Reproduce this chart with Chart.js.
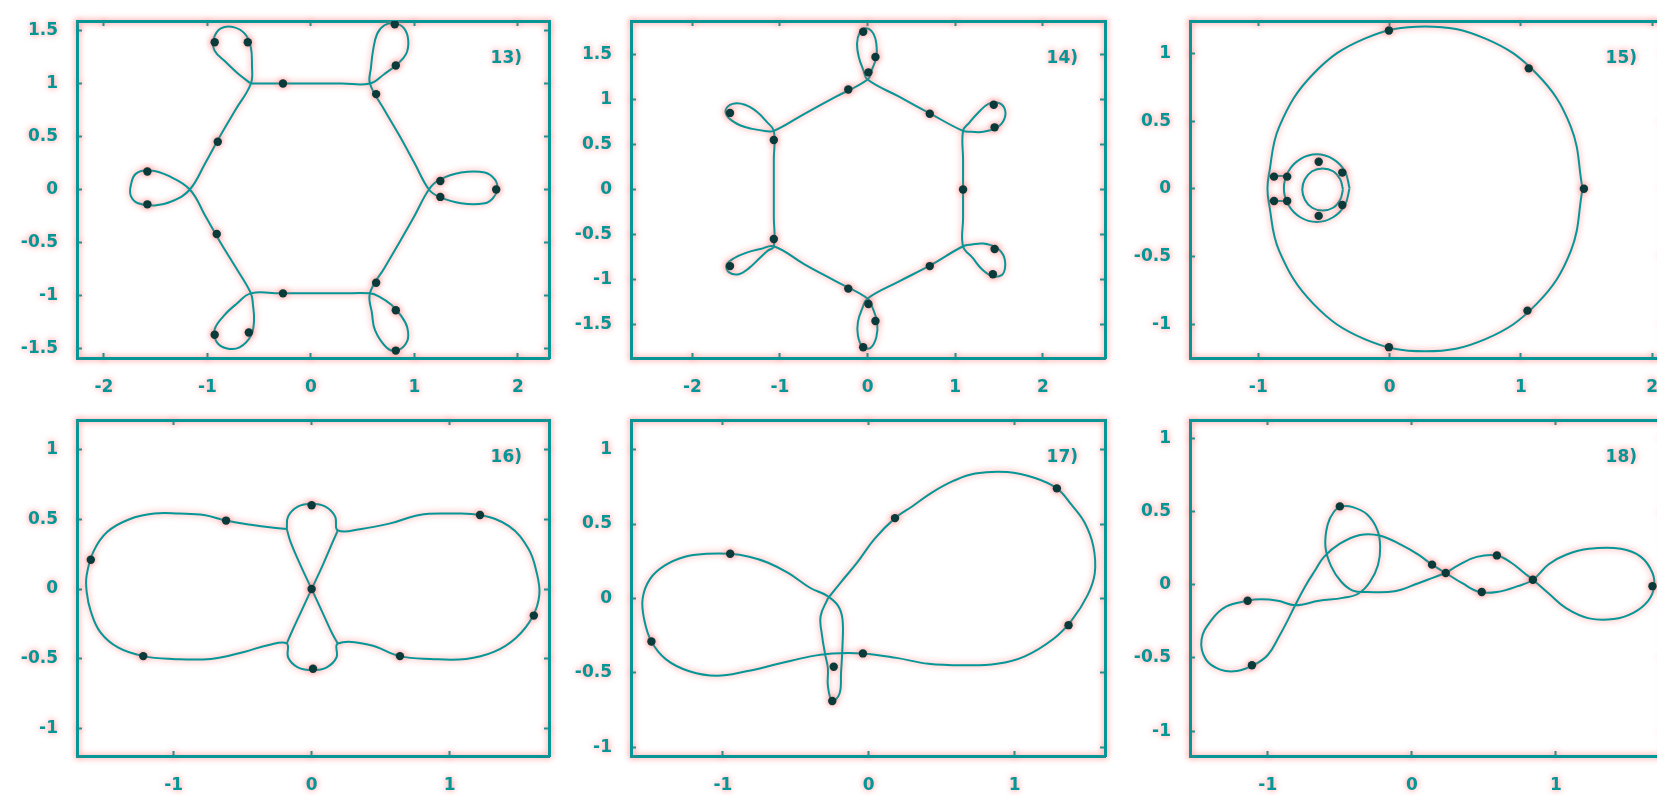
<!DOCTYPE html>
<html>
<head>
<meta charset="utf-8">
<script src="https://cdn.jsdelivr.net/npm/chart.js@4.4.1/dist/chart.umd.min.js"></script>
<style>
  html, body { margin: 0; padding: 0; background: #fff; width: 1657px; height: 795px; overflow: hidden; }
  canvas { position: absolute; }
</style>
</head>
<body>
<script>
// ---- orbit data, one closed path (or a few pieces) per panel ----
const panelLabels = ['13)', '14)', '15)', '16)', '17)', '18)'];

// 13) hexagon with six loops
const orbit13 = [
  [-0.58, 1.0], [-0.3, 1.0], [0.0, 1.0], [0.3, 1.0], [0.57, 1.0],
  [0.71, 1.09], [0.83, 1.18], [0.92, 1.28], [0.94, 1.41], [0.9, 1.52], [0.81, 1.57], [0.71, 1.55], [0.64, 1.47], [0.6, 1.31], [0.58, 1.15],
  [0.57, 1.0], [0.71, 0.75], [0.86, 0.5], [1.0, 0.25], [1.14, 0.0],
  [1.24, -0.07], [1.45, -0.13], [1.68, -0.13], [1.76, -0.08], [1.8, 0.0], [1.78, 0.09], [1.68, 0.16], [1.45, 0.16], [1.24, 0.09],
  [1.14, 0.0], [1.0, -0.25], [0.86, -0.49], [0.71, -0.74], [0.57, -0.98],
  [0.59, -1.17], [0.62, -1.33], [0.73, -1.49], [0.83, -1.52], [0.93, -1.43], [0.93, -1.3], [0.87, -1.19], [0.78, -1.09], [0.66, -1.01],
  [0.57, -0.98], [0.3, -0.98], [0.0, -0.98], [-0.3, -0.98], [-0.58, -0.98],
  [-0.72, -1.08], [-0.84, -1.19], [-0.93, -1.32], [-0.91, -1.44], [-0.81, -1.5], [-0.69, -1.49], [-0.58, -1.38], [-0.55, -1.24], [-0.56, -1.09],
  [-0.58, -0.98], [-0.73, -0.73], [-0.88, -0.49], [-1.02, -0.25], [-1.17, 0.0],
  [-1.38, 0.13], [-1.55, 0.18], [-1.69, 0.15], [-1.74, 0.04], [-1.74, -0.06], [-1.67, -0.13], [-1.51, -0.15], [-1.34, -0.11],
  [-1.17, 0.0], [-1.02, 0.25], [-0.88, 0.5], [-0.73, 0.75], [-0.58, 1.0],
  [-0.57, 1.18], [-0.58, 1.34], [-0.63, 1.46], [-0.74, 1.53], [-0.87, 1.52], [-0.94, 1.42], [-0.93, 1.31], [-0.82, 1.2], [-0.7, 1.09],
  [-0.58, 1.0]
];
const bodies13 = [
  [-0.93, 1.39], [-0.61, 1.39], [0.81, 1.56], [0.82, 1.17], [-0.27, 1.0], [0.63, 0.9], [-0.9, 0.45],
  [-1.58, 0.17], [-1.58, -0.14], [1.25, 0.08], [1.25, -0.07], [1.79, 0.0], [-0.91, -0.42], [0.63, -0.88],
  [-0.27, -0.98], [0.82, -1.14], [-0.93, -1.37], [-0.6, -1.35], [0.82, -1.52]
];

// 14) upright hexagon with six small loops
const orbit14 = [
  [1.09, 0.0], [1.09, -0.32], [1.09, -0.63],
  [1.2, -0.76], [1.3, -0.88], [1.42, -0.96], [1.53, -0.95], [1.57, -0.86], [1.55, -0.73], [1.46, -0.64], [1.32, -0.6], [1.19, -0.61],
  [1.09, -0.63], [0.72, -0.84], [0.36, -1.02], [0.0, -1.21],
  [-0.06, -1.32], [-0.11, -1.47], [-0.11, -1.62], [-0.06, -1.74], [0.03, -1.76], [0.1, -1.64], [0.11, -1.48], [0.06, -1.32],
  [0.0, -1.21], [-0.36, -1.02], [-0.72, -0.83], [-1.07, -0.63],
  [-1.22, -0.66], [-1.38, -0.7], [-1.52, -0.76], [-1.61, -0.84], [-1.58, -0.92], [-1.47, -0.94], [-1.35, -0.87], [-1.23, -0.76], [-1.14, -0.68],
  [-1.07, -0.63], [-1.07, -0.3], [-1.07, 0.0], [-1.07, 0.33], [-1.07, 0.65],
  [-1.15, 0.75], [-1.26, 0.86], [-1.4, 0.94], [-1.54, 0.95], [-1.62, 0.88], [-1.58, 0.79], [-1.45, 0.71], [-1.3, 0.67], [-1.17, 0.65],
  [-1.07, 0.65], [-0.72, 0.84], [-0.36, 1.03], [0.0, 1.22],
  [0.05, 1.33], [0.1, 1.47], [0.1, 1.62], [0.06, 1.74], [-0.02, 1.79], [-0.09, 1.74], [-0.12, 1.62], [-0.1, 1.47], [-0.05, 1.33],
  [0.0, 1.22], [0.36, 1.03], [0.72, 0.84], [1.09, 0.65],
  [1.19, 0.64], [1.32, 0.64], [1.46, 0.68], [1.55, 0.76], [1.57, 0.88], [1.5, 0.96], [1.38, 0.95], [1.27, 0.86], [1.16, 0.74],
  [1.09, 0.65], [1.09, 0.33], [1.09, 0.0]
];
const bodies14 = [
  [-0.05, 1.75], [0.09, 1.47], [0.01, 1.3], [-0.22, 1.11], [0.71, 0.84], [1.44, 0.94], [1.45, 0.69],
  [-1.57, 0.85], [-1.07, 0.55], [1.09, 0.0], [-1.07, -0.55], [-1.57, -0.85], [1.45, -0.66], [1.43, -0.94],
  [0.71, -0.85], [-0.22, -1.1], [0.01, -1.27], [0.09, -1.46], [-0.05, -1.75]
];

// 15) large circle with a double ring near its left side
const circle15 = [
  [1.47, 0.0], [1.38, 0.46], [1.12, 0.85], [0.73, 1.11], [0.27, 1.2], [-0.19, 1.11], [-0.58, 0.85], [-0.84, 0.46],
  [-0.92, 0.1], [-0.93, 0.0], [-0.92, -0.1], [-0.84, -0.46], [-0.58, -0.85], [-0.19, -1.11], [0.27, -1.2], [0.73, -1.11],
  [1.12, -0.85], [1.38, -0.46], [1.47, 0.0]
];
const outerRing15 = [
  [-0.305, 0.005], [-0.34, 0.13], [-0.43, 0.22], [-0.555, 0.255], [-0.68, 0.22], [-0.77, 0.13], [-0.805, 0.005],
  [-0.77, -0.12], [-0.68, -0.21], [-0.555, -0.245], [-0.43, -0.21], [-0.34, -0.12], [-0.305, 0.005]
];
const innerRing15 = [
  [-0.355, -0.005], [-0.376, 0.07], [-0.43, 0.13], [-0.51, 0.15], [-0.59, 0.13], [-0.645, 0.07], [-0.665, -0.005],
  [-0.645, -0.08], [-0.59, -0.14], [-0.51, -0.16], [-0.43, -0.14], [-0.376, -0.08], [-0.355, -0.005]
];
const linkTop15 = [[-0.92, 0.095], [-0.79, 0.095]];
const linkBottom15 = [[-0.92, -0.09], [-0.79, -0.09]];
const bodies15 = [
  [-0.005, 1.17], [1.06, 0.89], [1.48, 0.0], [1.05, -0.9], [-0.005, -1.17],
  [-0.54, 0.2], [-0.54, -0.2], [-0.36, 0.12], [-0.36, -0.12], [-0.78, 0.09], [-0.78, -0.09], [-0.88, 0.09], [-0.88, -0.09]
];

// 16) two lobes joined through a small vertical figure-eight
const lobes16 = [
  [-0.18, 0.43], [-0.29, 0.44], [-0.44, 0.46], [-0.62, 0.49], [-0.78, 0.53], [-0.96, 0.54], [-1.14, 0.54], [-1.32, 0.5],
  [-1.48, 0.41], [-1.58, 0.27], [-1.63, 0.1], [-1.63, -0.02], [-1.6, -0.16], [-1.53, -0.31], [-1.4, -0.42], [-1.22, -0.48],
  [-1.01, -0.5], [-0.73, -0.5], [-0.49, -0.45], [-0.31, -0.4], [-0.18, -0.39],
  [-0.17, -0.49], [-0.1, -0.56], [0.01, -0.58], [0.11, -0.56], [0.18, -0.49], [0.19, -0.39],
  [0.42, -0.4], [0.64, -0.48], [0.86, -0.5], [1.12, -0.5], [1.32, -0.45], [1.48, -0.35], [1.6, -0.2], [1.65, -0.04],
  [1.63, 0.12], [1.57, 0.29], [1.43, 0.45], [1.22, 0.53], [0.99, 0.54], [0.78, 0.53], [0.57, 0.47], [0.36, 0.43], [0.19, 0.42],
  [0.17, 0.52], [0.1, 0.59], [0.0, 0.61], [-0.1, 0.59], [-0.17, 0.52], [-0.18, 0.43]
];
const crossA16 = [[-0.18, 0.43], [-0.15, 0.33], [-0.08, 0.17], [0.0, 0.0], [0.08, -0.17], [0.15, -0.32], [0.19, -0.39]];
const crossB16 = [[0.19, 0.42], [0.15, 0.33], [0.08, 0.17], [0.0, 0.0], [-0.08, -0.17], [-0.15, -0.32], [-0.18, -0.39]];
const bodies16 = [
  [-0.62, 0.49], [-1.6, 0.21], [-1.22, -0.48], [0.0, 0.6], [0.0, 0.0], [0.01, -0.57], [1.22, 0.53], [1.61, -0.19], [0.64, -0.48]
];

// 17) uneven figure-eight with a narrow hanging loop
const orbit17 = [
  [-0.28, 0.0], [-0.33, -0.12], [-0.32, -0.25], [-0.3, -0.37], [-0.28, -0.47], [-0.28, -0.59], [-0.25, -0.69],
  [-0.2, -0.64], [-0.19, -0.5], [-0.18, -0.32], [-0.18, -0.14], [-0.21, -0.05], [-0.29, 0.02],
  [-0.4, 0.07], [-0.55, 0.17], [-0.69, 0.24], [-0.82, 0.28], [-0.95, 0.3], [-1.11, 0.3], [-1.26, 0.28], [-1.4, 0.22],
  [-1.5, 0.13], [-1.55, 0.0], [-1.54, -0.14], [-1.49, -0.29], [-1.39, -0.41], [-1.23, -0.49], [-1.04, -0.52], [-0.84, -0.49],
  [-0.62, -0.44], [-0.4, -0.39], [-0.25, -0.37], [-0.04, -0.37], [0.19, -0.4], [0.41, -0.44], [0.65, -0.45], [0.88, -0.44],
  [1.07, -0.39], [1.27, -0.27], [1.39, -0.15], [1.5, 0.02], [1.55, 0.17], [1.54, 0.35], [1.48, 0.51], [1.39, 0.63],
  [1.29, 0.74], [1.14, 0.81], [0.95, 0.85], [0.73, 0.84], [0.58, 0.79], [0.43, 0.71], [0.3, 0.62], [0.18, 0.54],
  [0.04, 0.4], [-0.08, 0.24], [-0.19, 0.11], [-0.28, 0.0]
];
const bodies17 = [
  [-0.95, 0.3], [-1.49, -0.29], [-0.04, -0.37], [0.18, 0.54], [1.29, 0.74], [1.37, -0.18], [-0.24, -0.46], [-0.25, -0.69]
];

// 18) knotted chain of loops
const orbit18 = [
  [0.235, 0.08], [0.14, 0.045], [0.045, 0.01], [-0.12, -0.045], [-0.31, -0.05], [-0.41, -0.04],
  [-0.49, 0.02], [-0.56, 0.125], [-0.6, 0.26], [-0.585, 0.41], [-0.54, 0.5], [-0.49, 0.535], [-0.41, 0.53], [-0.31, 0.48],
  [-0.24, 0.375], [-0.22, 0.26], [-0.235, 0.135], [-0.29, 0.02], [-0.37, -0.06], [-0.48, -0.09], [-0.645, -0.11],
  [-0.81, -0.14],
  [-0.93, -0.11], [-1.05, -0.1], [-1.14, -0.11], [-1.29, -0.15], [-1.39, -0.24], [-1.46, -0.375], [-1.43, -0.51],
  [-1.33, -0.58], [-1.215, -0.59], [-1.1, -0.55], [-1.0, -0.48], [-0.92, -0.35], [-0.86, -0.24],
  [-0.81, -0.14],
  [-0.74, -0.01], [-0.67, 0.1], [-0.61, 0.19], [-0.5, 0.28], [-0.36, 0.34], [-0.22, 0.335], [-0.07, 0.27], [0.045, 0.205], [0.14, 0.137],
  [0.235, 0.08],
  [0.35, 0.01], [0.47, -0.05], [0.59, -0.05], [0.735, -0.01],
  [0.84, 0.034],
  [0.95, 0.14], [1.07, 0.205], [1.23, 0.245], [1.45, 0.245], [1.59, 0.19], [1.67, 0.08], [1.68, -0.02], [1.64, -0.11],
  [1.54, -0.19], [1.4, -0.235], [1.23, -0.23], [1.07, -0.16], [0.95, -0.06],
  [0.84, 0.034],
  [0.78, 0.08], [0.69, 0.15], [0.59, 0.2], [0.45, 0.19], [0.33, 0.137],
  [0.235, 0.08]
];
const bodies18 = [
  [-1.14, -0.11], [-1.11, -0.55], [-0.5, 0.535], [0.14, 0.137], [0.59, 0.2], [0.485, -0.05], [0.235, 0.08], [0.84, 0.034], [1.67, -0.01]
];

// ---- styling ----
const TEAL = '#069696';
const BODY = '#0b3a3a';
const HALO = 'rgba(255, 90, 90, 0.75)';
const FONT = { family: "'DejaVu Sans', sans-serif", size: 17, weight: 'bold' };

// space kept around each chart area inside its canvas
const PAD = { left: 70, top: 40, right: 20, bottom: 45 };

// panel frames: chart-area box [left, top, width, height] and axis ranges
const panels = [
  { tag: panelLabels[0], box: [77, 21, 472, 337], x: [-2.26, 2.3], y: [-1.59, 1.59], curves: [orbit13], bodies: bodies13 },
  { tag: panelLabels[1], box: [631, 21, 474, 337], x: [-2.7, 2.71], y: [-1.87, 1.87], curves: [orbit14], bodies: bodies14 },
  { tag: panelLabels[2], box: [1190, 21, 474, 337], x: [-1.52, 2.09], y: [-1.25, 1.24],
    curves: [circle15, outerRing15, innerRing15, linkTop15, linkBottom15], bodies: bodies15 },
  { tag: panelLabels[3], box: [77, 420, 472, 336], x: [-1.7, 1.72], y: [-1.195, 1.21], curves: [lobes16, crossA16, crossB16], bodies: bodies16 },
  { tag: panelLabels[4], box: [631, 420, 474, 336], x: [-1.63, 1.62], y: [-1.06, 1.2], curves: [orbit17], bodies: bodies17 },
  { tag: panelLabels[5], box: [1190, 420, 474, 336], x: [-1.54, 1.75], y: [-1.17, 1.125], curves: [orbit18], bodies: bodies18 }
];

const toPoints = arr => arr.map(([x, y]) => ({ x, y }));

// soft reddish fringe around every stroke and glyph
const halo = {
  id: 'halo',
  beforeDraw(chart) {
    const ctx = chart.ctx;
    ctx.shadowColor = HALO;
    ctx.shadowBlur = 6;
  }
};

// "13)" style tag in the upper right corner
const panelTag = {
  id: 'panelTag',
  afterDatasetsDraw(chart, args, opts) {
    const { ctx, chartArea } = chart;
    ctx.save();
    ctx.font = `bold ${FONT.size}px ${FONT.family}`;
    ctx.fillStyle = TEAL;
    ctx.textAlign = 'right';
    ctx.textBaseline = 'alphabetic';
    ctx.fillText(opts.text, chartArea.right - 27, chartArea.top + 42);
    ctx.restore();
  }
};

function makeAxis(position, range, step, labelled) {
  const horizontal = position === 'bottom' || position === 'top';
  return {
    type: 'linear',
    axis: horizontal ? 'x' : 'y',
    position,
    min: range[0],
    max: range[1],
    border: { display: true, color: TEAL, width: 3 },
    grid: { drawOnChartArea: false, drawTicks: true, tickLength: -5, tickWidth: 2, color: TEAL },
    ticks: {
      display: labelled,
      stepSize: step,
      includeBounds: false,
      autoSkip: false,
      maxRotation: 0,
      color: TEAL,
      font: FONT,
      padding: horizontal ? 24 : 24,
      callback: v => String(Math.round(v * 10) / 10)
    },
    afterFit(scale) {
      if (horizontal) scale.height = labelled ? PAD.bottom : 0;
      else scale.width = labelled ? PAD.left : 0;
    }
  };
}

panels.forEach(p => {
  const [left, top, w, h] = p.box;
  const canvas = document.createElement('canvas');
  canvas.width = w + PAD.left + PAD.right;
  canvas.height = h + PAD.top + PAD.bottom;
  canvas.style.left = (left - PAD.left) + 'px';
  canvas.style.top = (top - PAD.top) + 'px';
  document.body.appendChild(canvas);

  const datasets = [{
    data: toPoints(p.bodies),
    showLine: false,
    pointRadius: 4.2,
    pointHoverRadius: 4.2,
    pointBackgroundColor: BODY,
    pointBorderWidth: 0
  }];
  p.curves.forEach(c => datasets.push({
    data: toPoints(c),
    showLine: true,
    borderColor: TEAL,
    borderWidth: 2,
    borderJoinStyle: 'round',
    tension: c.length > 2 ? 0.4 : 0,
    pointRadius: 0,
    pointHoverRadius: 0,
    fill: false
  }));

  new Chart(canvas, {
    type: 'scatter',
    data: { datasets },
    options: {
      responsive: false,
      animation: false,
      devicePixelRatio: 1,
      events: [],
      layout: { padding: { top: PAD.top, right: PAD.right, left: 0, bottom: 0 } },
      scales: {
        x: makeAxis('bottom', p.x, 1, true),
        y: makeAxis('left', p.y, 0.5, true),
        x2: makeAxis('top', p.x, 1, false),
        y2: makeAxis('right', p.y, 0.5, false)
      },
      plugins: {
        legend: { display: false },
        tooltip: { enabled: false },
        panelTag: { text: p.tag }
      }
    },
    plugins: [halo, panelTag]
  });
});
</script>
</body>
</html>
